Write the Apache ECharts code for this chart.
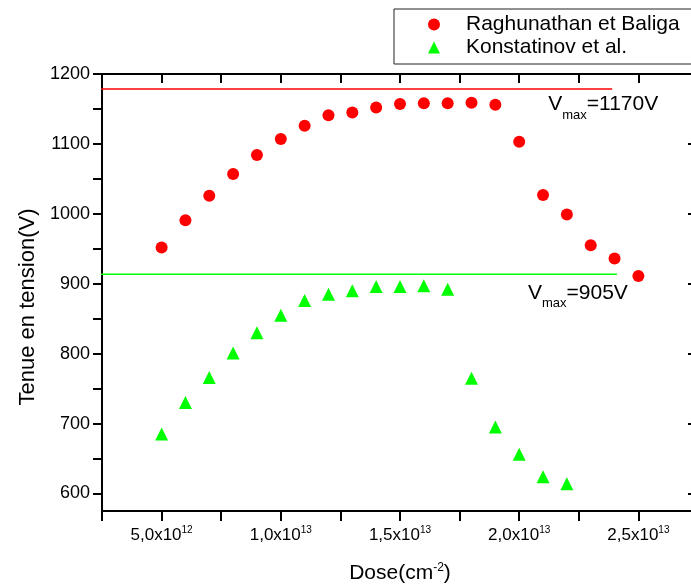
<!DOCTYPE html>
<html>
<head>
<meta charset="utf-8">
<script src="https://cdn.jsdelivr.net/npm/echarts@6/dist/echarts.min.js"></script>
<style>html,body{margin:0;padding:0;background:#fff}#c{width:691px;height:585px}</style>
</head>
<body>
<div id="c"></div>
<script>
// ---- data ----
const doseRaghunathan = [5e12, 6e12, 7e12, 8e12, 9e12, 1.0e13, 1.1e13, 1.2e13, 1.3e13, 1.4e13, 1.5e13, 1.6e13, 1.7e13, 1.8e13, 1.9e13, 2.0e13, 2.1e13, 2.2e13, 2.3e13, 2.4e13, 2.5e13];
const voltRaghunathan = [952, 991, 1026, 1057, 1084, 1107, 1126, 1141, 1145, 1152, 1157, 1158, 1158, 1159, 1156, 1103, 1027, 999, 955, 936, 911];
const doseKonstatinov = [5e12, 6e12, 7e12, 8e12, 9e12, 1.0e13, 1.1e13, 1.2e13, 1.3e13, 1.4e13, 1.5e13, 1.6e13, 1.7e13, 1.8e13, 1.9e13, 2.0e13, 2.1e13, 2.2e13];
const voltKonstatinov = [685, 730, 766, 801, 830, 855, 876, 885, 890, 896, 896, 897, 892, 765, 695, 656, 624, 614];
const seriesNames = ['Raghunathan et Baliga', 'Konstatinov et al.'];
// reference (Vmax) lines: [value, xStart, xEnd]
const vmaxRaghunathan = [1178.6, 2.32e12, 2.39e13];
const vmaxKonstatinov = [913.6, 2.32e12, 2.41e13];
const vmaxLabels = ['1170V', '905V'];
// tick labels / tick positions
const xTickLabelValues = [5e12, 1e13, 1.5e13, 2e13, 2.5e13];
const yTickLabelValues = [600, 700, 800, 900, 1000, 1100, 1200];
const yTickValues = [600, 650, 700, 750, 800, 850, 900, 950, 1000, 1050, 1100, 1150, 1200];

const FONT = '"Liberation Sans", Arial, sans-serif';
const RED = '#ff0000', GREEN = '#00ff00';

function zip(a, b) { return a.map((v, i) => [v, b[i]]); }
function xLabel(v) {
  const hit = xTickLabelValues.some(t => Math.abs(t - v) / t < 1e-6);
  if (!hit) return '';
  const e = Math.floor(Math.log10(v) + 1e-9);
  const m = (v / Math.pow(10, e)).toFixed(1).replace('.', ',');
  return '{a|' + m + 'x10}{b|' + e + '}';
}

const chart = echarts.init(document.getElementById('c'), null, {renderer: 'canvas'});
const axisLine = {show: true, onZero: false, lineStyle: {color: '#000', width: 2}};
const option = {
  animation: false,
  backgroundColor: '#fff',
  textStyle: {fontFamily: FONT, color: '#000'},
  grid: {left: 102, top: 74, width: 596, height: 437, containLabel: false, outerBoundsMode: 'none'},
  legend: {
    data: seriesNames,
    orient: 'vertical',
    left: 394, top: 9,
    backgroundColor: '#fff',
    borderColor: '#222', borderWidth: 1,
    padding: [5, 20, 6, 34],
    itemGap: 2,
    itemWidth: 12, itemHeight: 12,
    formatter: name => '{t|' + name + '}',
    textStyle: {
      fontSize: 21, fontFamily: FONT, color: '#000',
      rich: {t: {fontSize: 21, fontFamily: FONT, color: '#000', padding: [0, 0, 0, 21]}}
    }
  },
  xAxis: [{
    type: 'value', min: 2.5e12, max: 2.75e13, interval: 2.5e12,
    position: 'bottom',
    axisLine: axisLine,
    axisTick: {show: true, inside: false, length: 10, lineStyle: {color: '#000', width: 2}},
    splitLine: {show: false},
    axisLabel: {
      show: true, margin: 14, formatter: xLabel, hideOverlap: false,
      rich: {
        a: {fontSize: 17, fontFamily: FONT, color: '#000', verticalAlign: 'bottom'},
        b: {fontSize: 10, fontFamily: FONT, color: '#000', verticalAlign: 'bottom', padding: [0, 0, 9, 0]}
      }
    },
    name: '{a|Dose(cm}{b|-2}{a|)}',
    nameLocation: 'middle', nameGap: 51,
    nameTextStyle: {
      rich: {
        a: {fontSize: 21, fontFamily: FONT, color: '#000', verticalAlign: 'bottom'},
        b: {fontSize: 12, fontFamily: FONT, color: '#000', verticalAlign: 'bottom', padding: [0, 0, 10, 0]}
      }
    }
  }, {
    type: 'value', min: 2.5e12, max: 2.75e13, interval: 2.5e12,
    position: 'top',
    axisLine: axisLine,
    axisTick: {show: true, inside: true, length: 9, lineStyle: {color: '#000', width: 2}},
    axisLabel: {show: false},
    splitLine: {show: false}
  }],
  yAxis: [{
    type: 'value', min: 575, max: 1200,
    position: 'left',
    axisLine: axisLine,
    axisTick: {show: true, inside: false, length: 9, customValues: yTickValues, lineStyle: {color: '#000', width: 2}},
    splitLine: {show: false},
    axisLabel: {show: true, margin: 12, fontSize: 18, fontFamily: FONT, color: '#000', customValues: yTickLabelValues, hideOverlap: false,
      formatter: v => String(Math.round(v))},
    name: 'Tenue en tension(V)',
    nameLocation: 'middle', nameGap: 61,
    nameTextStyle: {fontSize: 22, fontFamily: FONT, color: '#000', padding: [0, 29, 0, 0]}
  }, {
    type: 'value', min: 575, max: 1200,
    position: 'right',
    axisLine: axisLine,
    axisTick: {show: true, inside: true, length: 10, customValues: yTickLabelValues, lineStyle: {color: '#000', width: 2}},
    axisLabel: {show: false},
    splitLine: {show: false}
  }],
  series: [{
    name: seriesNames[0], type: 'scatter', symbol: 'circle', symbolSize: 12,
    itemStyle: {color: RED, opacity: 1}, data: zip(doseRaghunathan, voltRaghunathan), z: 5
  }, {
    name: seriesNames[1], type: 'scatter', symbol: 'triangle', symbolSize: 13,
    itemStyle: {color: GREEN, opacity: 1}, data: zip(doseKonstatinov, voltKonstatinov), z: 5
  }, {
    name: 'vmaxR', type: 'line', symbol: 'none', clip: false, silent: true,
    lineStyle: {color: RED, width: 1.5},
    data: [[vmaxRaghunathan[1], vmaxRaghunathan[0]], [vmaxRaghunathan[2], vmaxRaghunathan[0]]], z: 3
  }, {
    name: 'vmaxK', type: 'line', symbol: 'none', clip: false, silent: true,
    lineStyle: {color: GREEN, width: 1.5},
    data: [[vmaxKonstatinov[1], vmaxKonstatinov[0]], [vmaxKonstatinov[2], vmaxKonstatinov[0]]], z: 3
  }]
};
chart.setOption(option);

function annot(ref, label, dx, dy) {
  const p = chart.convertToPixel({xAxisIndex: 0, yAxisIndex: 0}, [ref[2], ref[0]]);
  return {
    type: 'text', x: p[0] + dx, y: p[1] + dy, z: 10,
    style: {
      text: '{v|V}{s|max}{v|=' + label + '}',
      verticalAlign: 'top',
      fill: '#000',
      rich: {
        v: {fontSize: 21, fontFamily: FONT, fill: '#000', verticalAlign: 'top'},
        s: {fontSize: 13, fontFamily: FONT, fill: '#000', verticalAlign: 'top', padding: [15, 0, 0, 0]}
      }
    }
  };
}
chart.setOption({graphic: [
  annot(vmaxRaghunathan, vmaxLabels[0], -64, 5),
  annot(vmaxKonstatinov, vmaxLabels[1], -89, 8)
]});
</script>
</body>
</html>
